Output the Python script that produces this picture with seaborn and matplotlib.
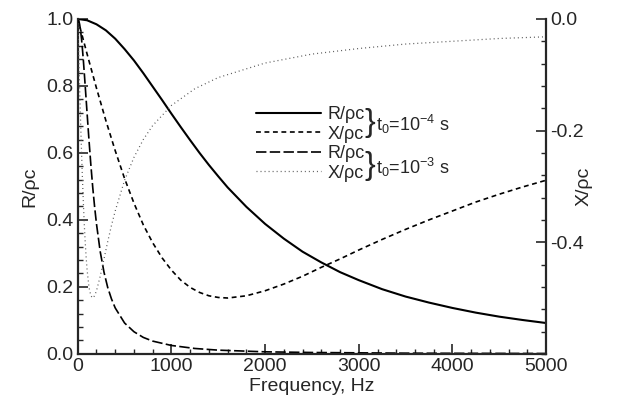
import numpy as np
import pandas as pd
import matplotlib
matplotlib.use('Agg')
import matplotlib.pyplot as plt
import seaborn as sns
from matplotlib.lines import Line2D
from matplotlib.ticker import MultipleLocator

# t0 = 1e-4 s curves
freq_a = [0, 100, 200, 300, 400, 500, 600, 700, 800, 900, 1000, 1100, 1200, 1300, 1400,
          1500, 1600, 1800, 2000, 2200, 2400, 2600, 2800, 3000, 3250, 3500, 3750, 4000,
          4250, 4500, 4750, 5000]
r_a = [1.0, 0.996, 0.984, 0.966, 0.941, 0.910, 0.876, 0.838, 0.798, 0.758, 0.717, 0.677,
       0.638, 0.600, 0.564, 0.530, 0.497, 0.439, 0.388, 0.344, 0.305, 0.273, 0.244, 0.220,
       0.193, 0.171, 0.153, 0.137, 0.123, 0.111, 0.101, 0.092]
x_a = [0.0, -0.063, -0.124, -0.182, -0.236, -0.286, -0.330, -0.369, -0.401, -0.428, -0.450,
       -0.468, -0.481, -0.490, -0.496, -0.499, -0.500, -0.496, -0.487, -0.475, -0.461,
       -0.445, -0.430, -0.414, -0.395, -0.377, -0.360, -0.344, -0.328, -0.314, -0.301, -0.289]

# t0 = 1e-3 s curves
freq_b = [0, 10, 20, 30, 40, 50, 60, 70, 80, 90, 100, 120, 140, 160, 180, 200, 240, 280,
          320, 360, 400, 500, 600, 700, 800, 1000, 1250, 1500, 2000, 2500, 3000, 3500,
          4000, 4500, 5000]
r_b = [1.0, 0.996, 0.984, 0.966, 0.941, 0.910, 0.876, 0.838, 0.798, 0.758, 0.717, 0.638,
       0.564, 0.497, 0.439, 0.388, 0.305, 0.244, 0.198, 0.164, 0.137, 0.092, 0.066, 0.049,
       0.038, 0.025, 0.016, 0.011, 0.006, 0.004, 0.003, 0.002, 0.0016, 0.0013, 0.001]
x_b = [0.0, -0.063, -0.124, -0.182, -0.236, -0.286, -0.330, -0.369, -0.401, -0.428, -0.450,
       -0.481, -0.496, -0.500, -0.496, -0.487, -0.461, -0.430, -0.399, -0.370, -0.344,
       -0.289, -0.248, -0.216, -0.191, -0.155, -0.125, -0.105, -0.079, -0.063, -0.053,
       -0.045, -0.040, -0.035, -0.032]

left_ticks = [0.0, 0.2, 0.4, 0.6, 0.8, 1.0]
right_ticks = [0.0, -0.2, -0.4]
x_ticks = [0, 1000, 2000, 3000, 4000, 5000]

sns.set_style('ticks')
plt.rcParams['font.family'] = ['Liberation Sans', 'DejaVu Sans']
plt.rcParams['mathtext.fontset'] = 'custom'
plt.rcParams['mathtext.rm'] = 'Liberation Sans'
plt.rcParams['lines.scale_dashes'] = False

FS = 14
solid = '-'
short_dash = (0, (3.5, 2.6))
long_dash = (0, (7.5, 2.4))
dots = (0, (0.7, 2.2))

fig, ax = plt.subplots(figsize=(6.22, 4.03), dpi=100)
fig.subplots_adjust(left=0.125, right=0.878, bottom=0.122, top=0.953)
ax2 = ax.twinx()

sns.lineplot(x=freq_a, y=r_a, ax=ax, color='black', lw=1.5, linestyle=solid)
sns.lineplot(x=freq_b, y=r_b, ax=ax, color='black', lw=1.2, linestyle=long_dash)
sns.lineplot(x=freq_a, y=x_a, ax=ax2, color='black', lw=1.2, linestyle=short_dash)
sns.lineplot(x=freq_b, y=x_b, ax=ax2, color='#555555', lw=0.9, linestyle=dots)

ax.set_xlim(0, 5000)
ax.set_ylim(0, 1.0)
ax2.set_ylim(-0.6, 0.0)

ax.set_xticks(x_ticks)
ax.set_yticks(left_ticks)
ax.set_yticklabels([f'{v:.1f}' for v in left_ticks])
ax2.set_yticks(right_ticks)
ax2.set_yticklabels([f'{v:.1f}' for v in right_ticks])
ax.xaxis.set_minor_locator(MultipleLocator(200))
ax.yaxis.set_minor_locator(MultipleLocator(0.04))
ax2.yaxis.set_minor_locator(MultipleLocator(0.04))

for a in (ax, ax2):
    a.tick_params(which='major', direction='in', length=7, width=1.2, labelsize=FS, pad=3)
    a.tick_params(which='minor', direction='in', length=3.5, width=1.0)
    for s in a.spines.values():
        s.set_linewidth(1.6)
    a.spines['top'].set_visible(False)
ax.spines['right'].set_visible(False)
ax2.spines['left'].set_visible(False)
ax2.spines['bottom'].set_visible(False)
ax.tick_params(top=False, right=False)

ax.set_xlabel('Frequency, Hz', fontsize=FS, labelpad=2)
ax.set_ylabel('R/ρc', fontsize=FS, labelpad=6)
ax2.set_ylabel('X/ρc', fontsize=FS, labelpad=6, rotation=90, va='bottom')

handles = [Line2D([], [], color='black', lw=1.5, linestyle=solid),
           Line2D([], [], color='black', lw=1.2, linestyle=short_dash),
           Line2D([], [], color='black', lw=1.2, linestyle=long_dash),
           Line2D([], [], color='#555555', lw=0.9, linestyle=dots)]
labels = ['R/ρc', 'X/ρc', 'R/ρc', 'X/ρc']
ax2.legend(handles, labels, loc='upper left', bbox_to_anchor=(0.38, 0.740),
           frameon=False, fontsize=13, handlelength=3.6, handletextpad=0.4,
           labelspacing=0.14, borderpad=0, borderaxespad=0)

ax2.text(0.623, 0.688, '}', transform=ax.transAxes, fontsize=23, ha='center', va='center')
ax2.text(0.636, 0.686, 't$_\\mathregular{0}$=10$^\\mathregular{-4}$ s', transform=ax.transAxes,
         fontsize=13, ha='left', va='center')
ax2.text(0.623, 0.560, '}', transform=ax.transAxes, fontsize=23, ha='center', va='center')
ax2.text(0.636, 0.558, 't$_\\mathregular{0}$=10$^\\mathregular{-3}$ s', transform=ax.transAxes,
         fontsize=13, ha='left', va='center')

fig.savefig('out.png', dpi=100)
